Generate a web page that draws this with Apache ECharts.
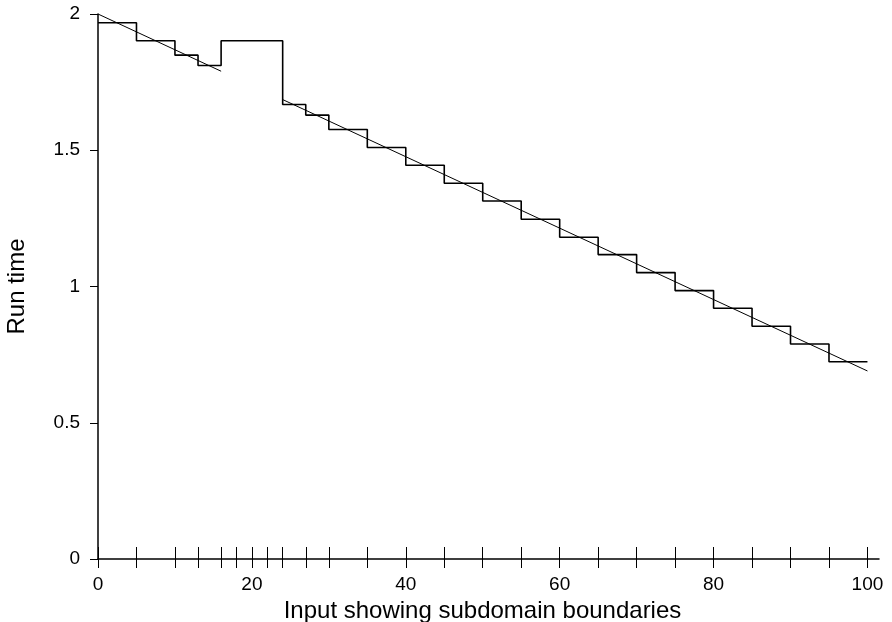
<!DOCTYPE html>
<html>
<head>
<meta charset="utf-8">
<title>Run time</title>
<script src="https://cdn.jsdelivr.net/npm/echarts@6/dist/echarts.min.js"></script>
<style>
  html, body { margin: 0; padding: 0; background: #fff; }
  #chart { width: 892px; height: 622px; }
</style>
</head>
<body>
<div id="chart"></div>
<script>
// Subdomain boundaries along the input axis (tick marks)
const boundaryTicks = [0, 5, 10, 13, 16, 18, 20, 22, 24, 27, 30, 35, 40, 45, 50, 55, 60, 65, 70, 75, 80, 85, 90, 95, 100];
// Labelled input values
const xLabels = [0, 20, 40, 60, 80, 100];
// Piecewise-constant run time: step starts and the value held until the next start
const stepStarts = [0, 5, 10, 13, 16, 24, 27, 30, 35, 40, 45, 50, 55, 60, 65, 70, 75, 80, 85, 90, 95, 100];
const stepValues = [1.968, 1.902, 1.849, 1.811, 1.902, 1.668, 1.629, 1.576, 1.510, 1.445, 1.379, 1.314, 1.247, 1.181, 1.117, 1.051, 0.985, 0.920, 0.854, 0.789, 0.724, 0.724];
// Straight-line trend, drawn in two pieces around the jump
const trendA = [[0, 2.0], [16, 1.790]];
const trendB = [[24, 1.686], [100, 0.690]];

const stepData = stepStarts.map((x, i) => [x, stepValues[i]]);
const FONT = 'Liberation Sans';

const chart = echarts.init(document.getElementById('chart'), null, { renderer: 'canvas' });
chart.setOption({
  animation: false,
  backgroundColor: '#ffffff',
  grid: { left: 98, right: 13, top: 14, bottom: 63, containLabel: false, outerBoundsMode: 'none' },
  xAxis: [
    {
      type: 'value', min: 0, max: 101.5,
      name: 'Input showing subdomain boundaries',
      nameLocation: 'middle', nameGap: 30,
      nameTextStyle: { fontFamily: FONT, fontSize: 24, color: '#000', padding: [0, 12, 0, 0] },
      axisLine: { show: true, onZero: false, lineStyle: { color: '#000', width: 1.5 } },
      axisTick: { show: true, inside: false, length: 9, customValues: boundaryTicks, lineStyle: { color: '#000', width: 1 } },
      axisLabel: { show: true, customValues: xLabels, margin: 16, fontFamily: FONT, fontSize: 19, color: '#000' },
      splitLine: { show: false }
    },
    {
      type: 'value', min: 0, max: 101.5, position: 'bottom',
      axisLine: { show: false },
      axisTick: { show: true, inside: true, length: 12, customValues: boundaryTicks, lineStyle: { color: '#000', width: 1 } },
      axisLabel: { show: false },
      splitLine: { show: false }
    }
  ],
  yAxis: {
    type: 'value', min: 0, max: 2, interval: 0.5,
    name: 'Run time',
    nameLocation: 'middle', nameGap: 69,
    nameTextStyle: { fontFamily: FONT, fontSize: 24, color: '#000' },
    axisLine: { show: true, lineStyle: { color: '#000', width: 1.5 } },
    axisTick: { show: true, length: 8, lineStyle: { color: '#000', width: 1 } },
    axisLabel: { margin: 18, fontFamily: FONT, fontSize: 19, color: '#000' },
    splitLine: { show: false }
  },
  series: [
    {
      type: 'line', step: 'end', data: stepData,
      symbol: 'none', lineStyle: { color: '#000', width: 1.6 }, z: 3
    },
    {
      type: 'line', data: trendA,
      symbol: 'none', lineStyle: { color: '#000', width: 1 }, z: 4
    },
    {
      type: 'line', data: trendB,
      symbol: 'none', lineStyle: { color: '#000', width: 1 }, z: 4
    }
  ]
});
</script>
</body>
</html>
